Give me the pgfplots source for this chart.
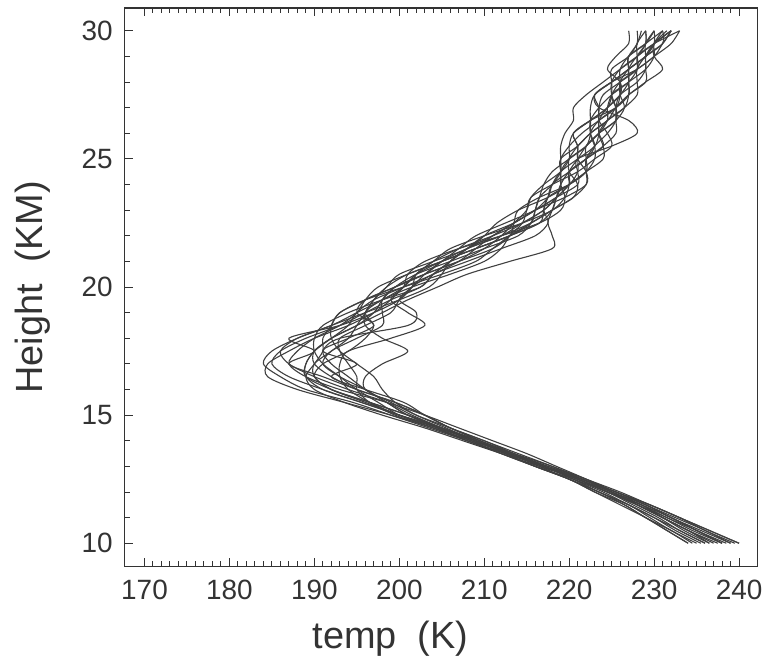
\documentclass[border=0pt]{standalone}
\usepackage{fontspec}
\setmainfont{Liberation Sans}
\usepackage{pgfplots}
\usepackage{pgfplotstable}
\pgfplotsset{compat=1.18}
\pgfplotstableread{
name 10 10.5 11 11.5 12 12.5 13 13.5 14 14.5 15 15.5 16 16.5 17 17.5 18 18.5 19 19.5 20 20.5 21 21.5 22 22.5 23 23.5 24 24.5 25 25.5 26 26.5 27 27.5 28 28.5 29 29.5 30
P1 240 236.5 233 229.5 225.5 222 217.5 213 209 204.5 200 195.5 191 187 185 186 189 193 196 199 202.5 204 206 208 210 213.5 216 219.5 222 222 221 221 220.5 222.5 225.5 227 227 227 227 229 231
P2 234 231.5 229 226.5 223.5 220 216 212.5 209 205 200 196 192 190 191 194 196 197 196 198 201.5 206 210 212 213 214.5 215 215.5 218 221 223 225 224.5 223.5 223.5 223 225 227 229 231 231
P3 238 235 231.5 228.5 224.5 221 217 213.5 210 206 202 199 196 196 198 201 198 196 196 197 198.5 201 205 209 213 216.5 218 218.5 219 219 219 220 221.5 223.5 225.5 226 226 226 227 229 230
P4 237 234 231 228 225 221.5 218 214 210 206 203 199.5 195 192 190 190 192 195 198 201 204.5 208 213 218 218 217.5 218 218.5 219 220 222 224 225.5 225.5 225.5 225 225 226 228 230 232
P5 236 233 230 227 224 220.5 217 213 209 205 201 196.5 192 189 189 190 192 195 197 198 199.5 202 206 210 214 215.5 216 216.5 218 219 219 219 219.5 220.5 220.5 222 224 226 228 229 229
P6 239 236 232.5 229 225.5 221.5 217 212.5 208 203.5 199 194.5 189 186 184 185 188 192 195 198 200.5 202 204 207 211 214.5 217 218.5 219 219 220 222 223.5 225.5 226.5 226 226 227 229 230 232
P7 235 232 229.5 227 223.5 220.5 217 213 209.5 206 203 200.5 196 192 195 191 194 197 195 196 199.5 203 207 211 213 213.5 214 216.5 220 222 222 222 223.5 225.5 225.5 225 227 229 230 230 231
P8 238.5 235 232 228.5 224.5 221 216.5 212 207.5 203 198 193.5 190 189 190 191 191 192 193 196 199.5 203 205 207 209 212.5 216 218.5 221 221 221 225 228 227 223.5 223 225 228 230 232 233
P9 234.5 232 229 226.5 223 220 216 212 208.5 205 201.5 198.5 194 190 187 186 188 192 196 200 203.5 205 206 208 212 215.5 218 220.5 221 220 220 221 222.5 224.5 226.5 227 227 227 227 228 228
P10 237.5 234 231 228 224.5 221 217 213 209 205 201 198.5 196 194 192 191 193 201 202 200 201.5 203 205 208 212 214.5 217 218.5 220 220 221 222 223.5 224.5 224.5 225 226 228 230 231 232
P11 235.5 232.5 230 227 223.5 220 216.5 213 209.5 206 203 199.5 195 191 187 190 187 193 197 200 201.5 202 204 206 210 214.5 218 219.5 220 220 222 224 223.5 223.5 223.5 224 226 228 228 228 229
P12 239.5 236 233 229.5 226 222 218 213.5 209 204.5 200 196.5 194 193 193 194 199 203 201 199 200.5 201 203 207 212 216.5 219 219.5 219 219 219 221 222.5 224.5 225.5 227 229 229 229 229 230
P13 236.5 233.5 231 228 225 222 218.5 215 211 207 203 198.5 193 189 187 188 190 193 195 196 197.5 201 205 209 213 215.5 216 216.5 217 218 220 222 222.5 222.5 222.5 223 225 227 229 230 230
P14 238 235 232 229 225 221.5 217 213 209 205.5 202 199.5 198 197 195 193 192 192 193 196 200.5 205 209 211 213 215.5 218 220.5 222 222 222 223 224.5 225.5 225.5 226 228 229 229 230 232
P15 234 231.5 229 226 223 220 216 212.5 209 205 201 196.5 192 190 190 192 194 195 196 197 198.5 200 204 208 210 211.5 214 217.5 220 221 221 221 220.5 222.5 224.5 226 226 224.5 225.5 227 227
P16 239 235.5 232 229 225.5 221.5 217.5 213.5 209.5 205 200 195.5 191 189 189 190 192 194 195 197 200.5 204 207 209 211 213.5 216 217.5 218 219 221 223 223.5 223.5 224.5 226 227 227 228 230 233
P17 236 233 230.5 227.5 224.5 221 217 213 208.5 204 199.5 196.5 195 195 194 193 193 196 199 200 201.5 204 208 212 216 217.5 217 217.5 218 220 222 223 222.5 222.5 223.5 225 227 228 228 229 229
P18 240 236.5 233 229.5 225.5 221.5 217 212.5 208 204 200 197.5 195 193 191 190 190 191 194 198 202.5 204 206 208 211 213.5 216 218.5 220 222 223 223 222.5 223.5 225.5 227 229 231 230 230 231.5
P19 236.5 234 231 228.5 225 221 217 213 208.5 204 199 193.5 188 184.5 184.5 187 190 194 197 199 200.5 202 205 209 213 216.5 217 217.5 220 222 224 224 223.5 224.5 226.5 228 228 228 229 231 232
P20 238 234.5 231.5 228 224.5 220.5 216 212 208 204.5 201 198.5 196 193 191 192 195 198 198 198 199.5 203 207 210 212 213.5 215 215.5 217 219 220 220 220.5 222.5 224.5 225 225 225 227 228 228.5
}\rawtbl
\pgfplotstabletranspose[colnames from=name]\profiles{\rawtbl}
\begin{document}
\begin{tikzpicture}
\begin{axis}[
  scale only axis,
  width=317.5pt, height=280pt,
  xmin=167.66, xmax=242.2,
  ymin=9.1, ymax=30.89,
  xtick={170,180,...,240},
  ytick={10,15,20,25,30},
  minor x tick num=9,
  minor y tick num=4,
  tick align=inside,
  xtick pos=both,
  ytick pos=left,
  major tick length=4pt,
  minor tick length=2.5pt,
  axis line style={black!80, line width=0.6pt},
  every tick/.style={black!80, line width=0.5pt},
  /pgf/number format/assume math mode=true,
  tick label style={font=\fontsize{14}{16}\selectfont, text=black!80},
  xticklabel style={yshift=-3.5pt},
  yticklabel style={xshift=-2.5pt},
  xlabel={temp\ \ (K)},
  ylabel={Height\ \ (KM)},
  label style={font=\fontsize{19}{22}\selectfont, text=black!80},
  xlabel style={at={(axis description cs:0.42,-0.129)}, anchor=center},
  ylabel style={at={(axis description cs:-0.145,0.5)}, anchor=center},
  clip=true,
]
\pgfplotsinvokeforeach{1,...,20}{
  \addplot[black!75, line width=0.55pt, smooth, tension=0.5, no marks] table[x=P#1, y=colnames]{\profiles};
}
\end{axis}
\path[use as bounding box] ([xshift=-62.5pt,yshift=-51pt]current axis.south west) rectangle ([xshift=4.5pt,yshift=4pt]current axis.north east);
\end{tikzpicture}
\end{document}
